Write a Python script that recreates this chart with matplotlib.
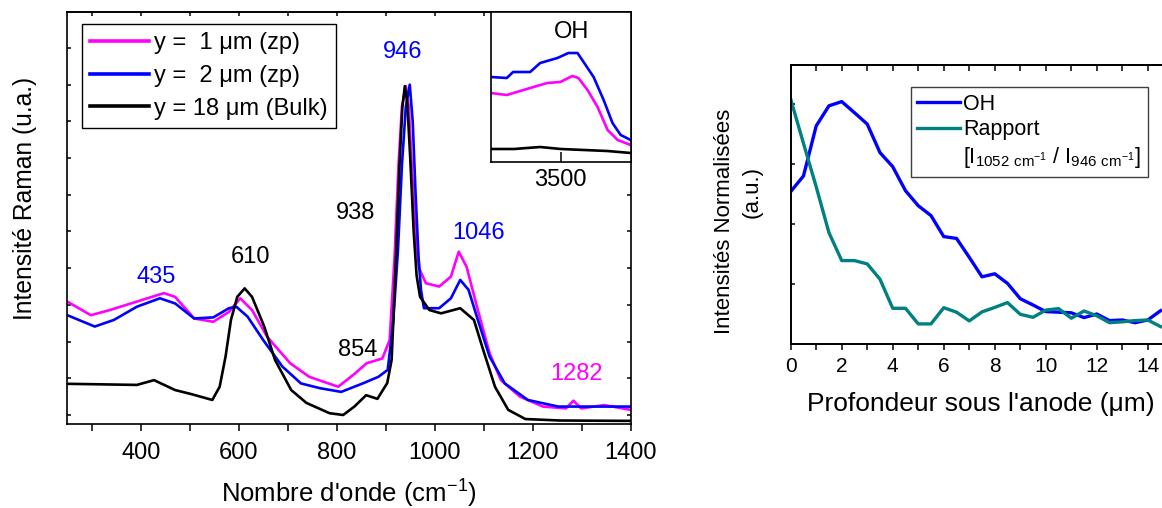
import matplotlib
matplotlib.use("Agg")
import matplotlib.pyplot as plt
from matplotlib.lines import Line2D
from matplotlib.ticker import MultipleLocator

plt.rcParams['font.family'] = ['Liberation Sans', 'DejaVu Sans']
plt.rcParams['mathtext.fontset'] = 'custom'
plt.rcParams['mathtext.rm'] = 'Liberation Sans'

MAGENTA = '#ff00ff'
BLUE = '#0000ff'
TEAL = '#008080'

# Raman spectra (wavenumber cm-1, intensity a.u.)
wn_1um = [250, 298, 337, 392, 447, 470, 509, 548, 580, 603, 627, 658, 705, 744, 803,
          838, 861, 893, 908, 918, 926, 933, 941, 947, 953, 960, 968, 982, 1009, 1033,
          1049, 1065, 1088, 1112, 1135, 1174, 1221, 1268, 1283, 1299, 1346, 1400]
int_1um = [3.09, 2.72, 2.86, 3.09, 3.32, 3.22, 2.63, 2.54, 2.81, 3.18, 2.86, 2.13, 1.41,
           1.04, 0.77, 1.14, 1.41, 1.54, 2.04, 4.3, 6.8, 8.4, 8.96, 8.4, 6.8, 5.0, 4.0,
           3.59, 3.50, 3.77, 4.45, 4.04, 2.86, 1.68, 0.95, 0.50, 0.23, 0.18, 0.39, 0.18,
           0.27, 0.14]

wn_2um = [250, 306, 345, 392, 439, 470, 509, 548, 580, 595, 618, 650, 689, 727, 766,
          809, 853, 885, 904, 915, 925, 933, 941, 949, 955, 961, 967, 972, 978, 1009,
          1033, 1052, 1069, 1088, 1112, 1143, 1190, 1252, 1400]
int_2um = [2.72, 2.41, 2.59, 2.95, 3.18, 3.04, 2.63, 2.66, 2.91, 2.95, 2.68, 2.04, 1.32,
           0.86, 0.73, 0.63, 0.86, 1.04, 1.23, 2.5, 4.5, 6.8, 8.4, 9.0, 8.0, 6.0, 4.3,
           3.4, 2.91, 2.91, 3.18, 3.68, 3.41, 2.59, 1.59, 0.86, 0.41, 0.23, 0.23]

wn_18um = [250, 392, 427, 470, 503, 546, 561, 573, 584, 597, 612, 627, 652, 674, 707,
           738, 785, 813, 836, 860, 883, 903, 912, 920, 928, 934, 939, 944, 950, 957,
           963, 970, 989, 1013, 1052, 1080, 1099, 1123, 1150, 1185, 1256, 1400]
int_18um = [0.85, 0.82, 0.95, 0.68, 0.57, 0.41, 0.77, 1.59, 2.59, 3.22, 3.45, 3.22, 2.41,
            1.50, 0.68, 0.33, 0.05, 0.0, 0.23, 0.54, 0.44, 0.87, 1.5, 4.0, 6.8, 8.4,
            8.96, 8.5, 7.0, 5.0, 3.8, 3.22, 2.86, 2.77, 2.91, 2.59, 1.77, 0.77, 0.14,
            -0.11, -0.15, -0.16]

labels_spectra = ["y =  1 μm (zp)", "y =  2 μm (zp)", "y = 18 μm (Bulk)"]

# OH band (inset)
oh_wn_1um = [3200, 3269, 3369, 3442, 3498, 3550, 3576, 3615, 3658, 3701, 3744, 3800]
oh_1um = [69, 67, 74, 79, 80, 86, 84, 72, 55, 32, 22, 17]
oh_wn_2um = [3200, 3269, 3296, 3369, 3412, 3486, 3533, 3572, 3598, 3641, 3684, 3722, 3757, 3800]
oh_2um = [85, 84, 90, 90, 99, 104, 109, 109, 100, 85, 62, 39, 27, 22]
oh_wn_18um = [3200, 3300, 3412, 3500, 3600, 3700, 3800]
oh_18um = [13, 13, 15, 13, 12, 11, 9]

# peak labels: (text, x, y, colour)
peak_labels = [("946", 934, 9.89, BLUE), ("938", 838, 5.50, 'black'),
               ("1046", 1089, 4.97, BLUE), ("610", 623, 4.30, 'black'),
               ("435", 431, 3.76, BLUE), ("854", 842, 1.77, 'black'),
               ("1282", 1290, 1.12, MAGENTA)]

# depth profile
depth = [0, 0.5, 1, 1.5, 2, 2.5, 3, 3.5, 4, 4.5, 5, 5.5, 6, 6.5, 7, 7.5, 8, 8.5, 9,
         9.5, 10, 10.5, 11, 11.5, 12, 12.5, 13, 13.5, 14, 14.5]
oh_norm = [0.508, 0.56, 0.727, 0.794, 0.808, 0.771, 0.733, 0.638, 0.591, 0.511, 0.461,
           0.428, 0.358, 0.352, 0.289, 0.224, 0.234, 0.202, 0.151, 0.13, 0.108, 0.106,
           0.104, 0.088, 0.1, 0.078, 0.08, 0.071, 0.08, 0.111]
ratio_norm = [0.816, 0.669, 0.524, 0.371, 0.278, 0.278, 0.267, 0.216, 0.119, 0.119,
              0.067, 0.067, 0.121, 0.106, 0.077, 0.107, 0.122, 0.138, 0.099, 0.089,
              0.113, 0.118, 0.086, 0.11, 0.094, 0.071, 0.074, 0.078, 0.08, 0.058]

W, H = 1162, 508
fig = plt.figure(figsize=(W / 100, H / 100), dpi=100)


def box(x0, y0, x1, y1):
    """pixel box (top-left origin) -> figure rect"""
    return [x0 / W, 1 - y1 / H, (x1 - x0) / W, (y1 - y0) / H]


# ---- main spectra ----
ax = fig.add_axes(box(67.3, 12, 630.7, 424))
ax.plot(wn_1um, int_1um, color=MAGENTA, lw=1.9, label=labels_spectra[0])
ax.plot(wn_2um, int_2um, color=BLUE, lw=1.9, label=labels_spectra[1])
ax.plot(wn_18um, int_18um, color='black', lw=1.9, label=labels_spectra[2])
ax.set_xlim(250, 1400)
ax.set_ylim(-0.245, 10.98)
ax.xaxis.set_major_locator(MultipleLocator(200))
ax.xaxis.set_minor_locator(MultipleLocator(100))
ax.set_yticks(range(0, 11))
ax.set_yticklabels([])
ax.tick_params(axis='x', which='both', direction='out', length=5, width=1.1,
               labelsize=17, pad=8)
ax.tick_params(axis='y', which='both', direction='in', length=3, width=1.1,
               left=True, right=True)
top = ax.secondary_xaxis('top')
top.xaxis.set_major_locator(MultipleLocator(100))
top.tick_params(direction='in', length=3, width=1.1, labeltop=False)
for s in list(ax.spines.values()) + list(top.spines.values()):
    s.set_linewidth(1.2)
ax.set_xlabel(r"Nombre d'onde (cm$^{\mathregular{-1}}$)", fontsize=18.5, labelpad=9)
fig.text(25 / W, 1 - 198 / H, "Intensité Raman (u.a.)", rotation=90, fontsize=17.7,
         ha='center', va='center')
for txt, x, y, c in peak_labels:
    ax.text(x, y, txt, color=c, fontsize=17, ha='center', va='center')
leg = ax.legend(loc='upper left', bbox_to_anchor=(82 / W, 1 - 24 / H),
                bbox_transform=fig.transFigure, borderaxespad=0, fontsize=17,
                handlelength=2.5, handletextpad=0.2, labelspacing=0.45,
                borderpad=0.35, fancybox=False, framealpha=1)
leg.get_frame().set_edgecolor('black')
leg.get_frame().set_linewidth(1.0)
for ln in leg.get_lines():
    ln.set_linewidth(2.6)

# ---- inset OH ----
ins = fig.add_axes(box(490.7, 12, 630.7, 162))
ins.plot(oh_wn_1um, oh_1um, color=MAGENTA, lw=1.9)
ins.plot(oh_wn_2um, oh_2um, color=BLUE, lw=1.9)
ins.plot(oh_wn_18um, oh_18um, color='black', lw=1.9)
ins.set_xlim(3200, 3800)
ins.set_ylim(0, 150)
ins.set_xticks([3500])
ins.set_yticks([])
ins.tick_params(axis='x', direction='in', length=7, width=1.1, labelsize=17, pad=5)
for s in ins.spines.values():
    s.set_linewidth(1.2)
ins.text(0.58, 0.87, "OH", transform=ins.transAxes, fontsize=17, ha='center', va='center')

# ---- depth profile ----
ax2 = fig.add_axes(box(790.7, 65, 1170, 344))
ax2.plot(depth, oh_norm, color=BLUE, lw=2.4, label="OH")
ax2.plot(depth, ratio_norm, color=TEAL, lw=2.4, label="Rapport")
ax2.set_xlim(0, 14.87)
ax2.set_ylim(0, 0.93)
ax2.xaxis.set_major_locator(MultipleLocator(2))
ax2.xaxis.set_minor_locator(MultipleLocator(1))
ax2.set_yticks([0.2, 0.4, 0.6, 0.8])
ax2.set_yticklabels([])
ax2.tick_params(axis='x', which='both', direction='out', length=4, width=1.1,
                labelsize=15, pad=5)
ax2.tick_params(axis='y', direction='in', length=3, width=1.1)
top2 = ax2.secondary_xaxis('top')
top2.xaxis.set_major_locator(MultipleLocator(1))
top2.tick_params(direction='in', length=4, width=1.1, labeltop=False)
for s in list(ax2.spines.values()) + list(top2.spines.values()):
    s.set_linewidth(1.4)
ax2.set_xlabel("Profondeur sous l'anode (μm)", fontsize=19, labelpad=12)
fig.text(725 / W, 1 - 221 / H, "Intensités Normalisées", rotation=90, fontsize=16,
         ha='center', va='center')
fig.text(752 / W, 1 - 192 / H, "(a.u.)", rotation=90, fontsize=16,
         ha='center', va='center')

blank = Line2D([], [], color='none')
handles = ax2.get_lines()[:2] + [blank]
texts = ["OH", "Rapport",
         r"[I$_{\mathregular{1052\ cm^{-1}}}$ / I$_{\mathregular{946\ cm^{-1}}}$]"]
leg2 = ax2.legend(handles, texts, loc='upper left', bbox_to_anchor=(910.7 / W, 1 - 87.3 / H),
                  bbox_transform=fig.transFigure, borderaxespad=0, fontsize=15.5,
                  handlelength=2.0, handletextpad=0.15, labelspacing=0.22,
                  borderpad=0.3, fancybox=False, framealpha=1)
leg2.get_frame().set_edgecolor('#404040')
leg2.get_frame().set_linewidth(1.0)

fig.savefig("out.png", dpi=100)
